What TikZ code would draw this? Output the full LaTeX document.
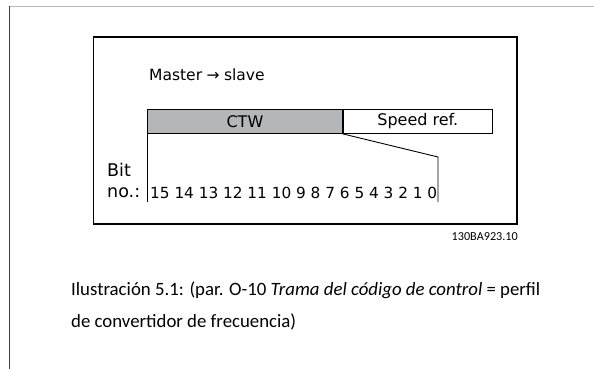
\documentclass[tikz,border=0pt]{standalone}
\usepackage{fontspec}
\setmainfont{DejaVu Sans}
\newfontfamily\capfont{Carlito}
\usetikzlibrary{positioning}

\definecolor{ctwgray}{RGB}{180,182,184}

\tikzset{
    lbl/.style={font=\fontsize{16}{18}\selectfont, inner sep=0pt, anchor=west},
    field/.style={draw, line width=0.9pt, font=\fontsize{16}{18}\selectfont, minimum height=24, inner sep=0pt},
    captext/.style={font=\capfont\fontsize{18.8}{21}\selectfont, inner sep=0pt, anchor=west}
}

\begin{document}
\begin{tikzpicture}[x=1pt,y=-1pt]
    \useasboundingbox (0,0) rectangle (594,369);

    % page edges
    \draw[gray!55, line width=1.3pt] (9.5,6.5) -- (594,6.5);
    \draw[black!75, line width=1.3pt] (9.5,6.5) -- (9.5,369);

    % frame
    \draw[line width=1.2pt] (93.5,37) rectangle (517,224);

    \node[lbl, font=\fontsize{15.5}{18}\selectfont] (master) at (149,75) {Master\hspace{4.5pt}→\hspace{4.5pt}slave};

    % telegram fields
    \node[field, fill=ctwgray, minimum width=195, anchor=north west] (ctw) at (147,109) {CTW};
    \node[field, minimum width=149, right=0pt of ctw] (ref) {Speed ref.};

    % bit fan
    \coordinate (b15) at (147,202);
    \coordinate (b0top) at (438,157);
    \coordinate (b0) at (438,202);
    \draw[line width=0.9pt] (ctw.south west) -- (b15);
    \draw[line width=0.9pt] (ctw.south east) -- (b0top) -- (b0);

    \node[lbl, font=\fontsize{17.5}{20}\selectfont] (bit) at (107,170) {Bit};
    \node[lbl, font=\fontsize{17.5}{20}\selectfont] (no) at (107,193) {no.:};
    \node[lbl, font=\fontsize{15.3}{18}\selectfont] (bits) at (150,193) {15 14 13 12 11 10 9 8 7 6 5 4 3 2 1 0};

    \node[font=\capfont\fontsize{12.2}{14}\selectfont, inner sep=0pt, anchor=east] (id) at (518,237) {130BA923.10};

    % caption
    \node[captext] (cap1) at (71,290) {Ilustración 5.1: (par. O-10 \textit{Trama del código de control} = perfil};
    \node[captext] (cap2) at (71,322) {de convertidor de frecuencia)};
\end{tikzpicture}
\end{document}
